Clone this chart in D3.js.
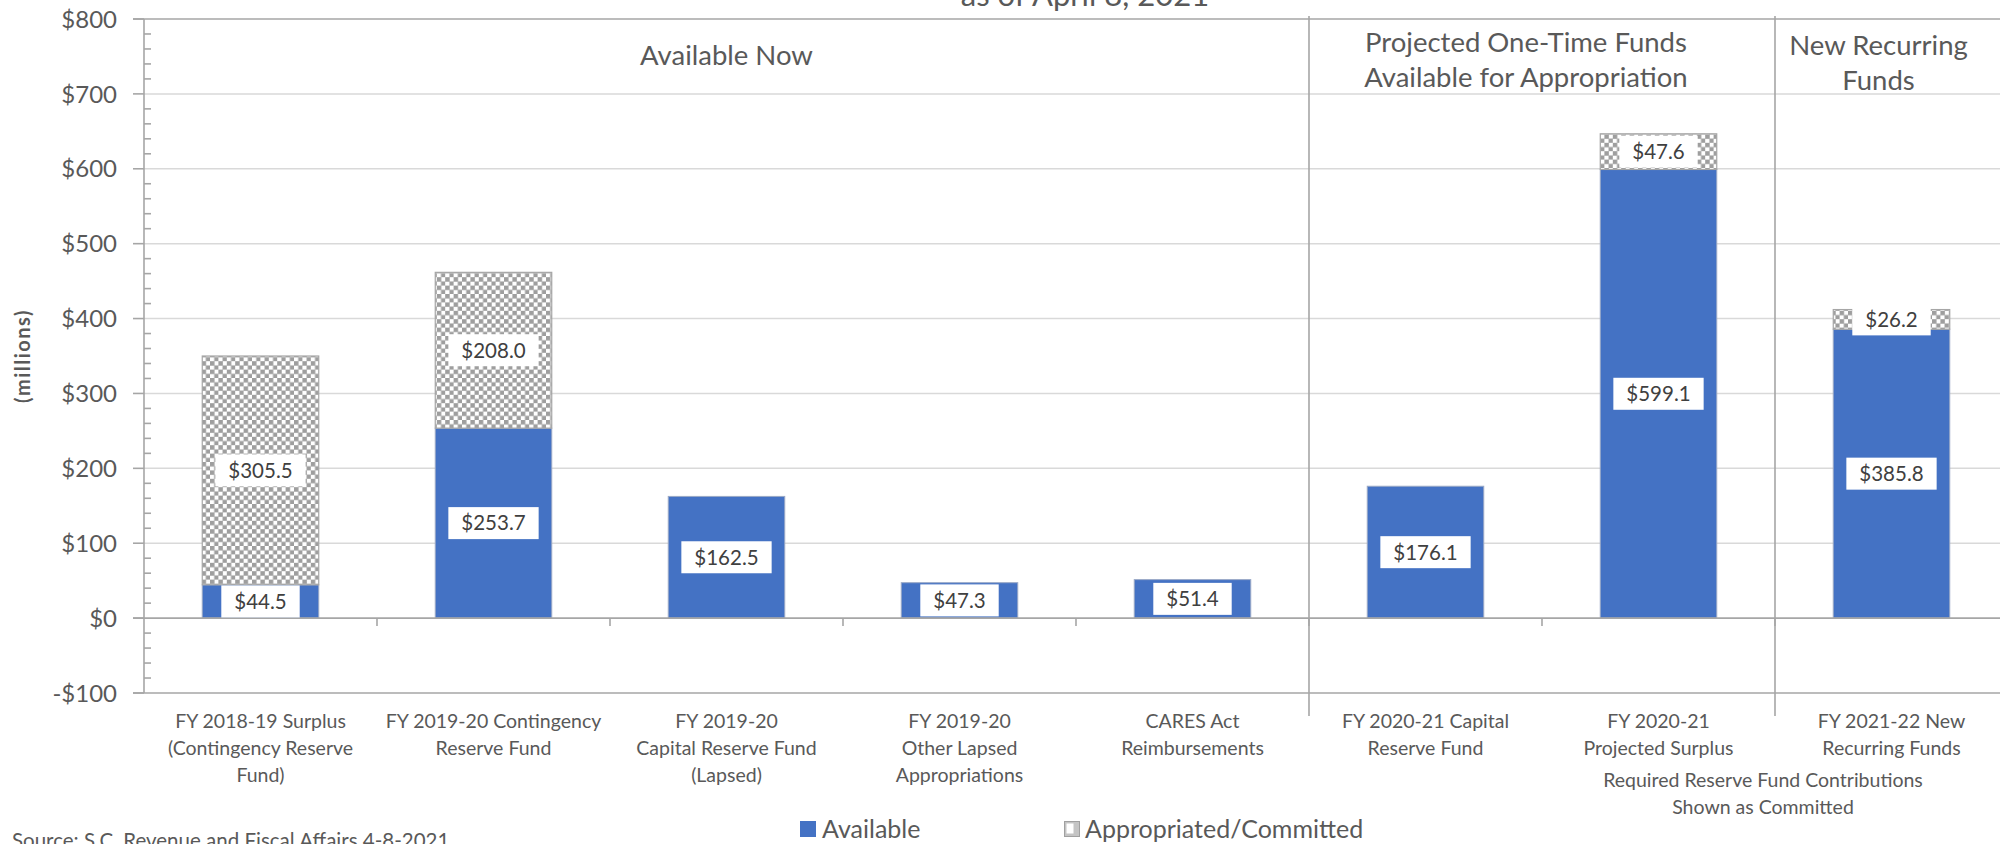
<!DOCTYPE html>
<html>
<head>
<meta charset="utf-8">
<script src="https://cdn.jsdelivr.net/npm/d3@7"></script>
<style>
  html, body { margin: 0; padding: 0; background: #ffffff; }
  svg { display: block; font-family: Lato, "Open Sans", "Noto Sans", sans-serif; }
</style>
</head>
<body>
<svg id="chart" width="2000" height="844"></svg>
<script>
// ---------------- DATA ----------------
const categoryLines = [
  ["FY 2018-19 Surplus", "(Contingency Reserve", "Fund)"],
  ["FY 2019-20 Contingency", "Reserve Fund"],
  ["FY 2019-20", "Capital Reserve Fund", "(Lapsed)"],
  ["FY 2019-20", "Other Lapsed", "Appropriations"],
  ["CARES Act", "Reimbursements"],
  ["FY 2020-21 Capital", "Reserve Fund"],
  ["FY 2020-21", "Projected Surplus"],
  ["FY 2021-22 New", "Recurring Funds"]
];
const categories = categoryLines.map(l => l.join(" "));
const available = [44.5, 253.7, 162.5, 47.3, 51.4, 176.1, 599.1, 385.8];
const committed = [305.5, 208.0, 0, 0, 0, 0, 47.6, 26.2];
const seriesNames = ["Available", "Appropriated/Committed"];
const yTickValues = [-100, 0, 100, 200, 300, 400, 500, 600, 700, 800];
const groupHeaderLines = [
  ["Available Now"],
  ["Projected One-Time Funds", "Available for Appropriation"],
  ["New Recurring", "Funds"]
];
const groupSpans = [[0, 4], [5, 6], [7, 7]];
const noteLines = ["Required Reserve Fund Contributions", "Shown as Committed"];
const subtitleText = "as of April 8, 2021";
const yAxisTitle = "(millions)";
const sourceText = "Source: S.C. Revenue and Fiscal Affairs 4-8-2021";

// ---------------- LAYOUT ----------------
const svg = d3.select("#chart");
const W = 2000;
const plotLeft = 144, plotRight = 2008, plotTop = 19, plotBottom = 693;
const blue = "#4472C4";
const txt = "#595959";
const axisGray = "#A6A6A6";
const gridGray = "#D9D9D9";

const x = d3.scaleBand().domain(categories).range([plotLeft, plotRight])
  .paddingInner(0.5).paddingOuter(0.25);
const y = d3.scaleLinear().domain([-100, 800]).range([plotBottom, plotTop]);
const step = x.step();
const gap = (step - x.bandwidth()) / 2;
const boundary = i => i === 0 ? plotLeft : x(categories[i - 1]) + x.bandwidth() + gap;

// pattern (small checkerboard)
const defs = svg.append("defs");
const P = 8.4, C = 4.5;
const pat = defs.append("pattern").attr("id", "checker")
  .attr("patternUnits", "userSpaceOnUse").attr("width", P).attr("height", P);
pat.append("rect").attr("width", P).attr("height", P).attr("fill", "#ffffff");
pat.append("rect").attr("x", 0).attr("y", 0).attr("width", C).attr("height", C).attr("fill", "#9E9E9E");
pat.append("rect").attr("x", P / 2).attr("y", P / 2).attr("width", C).attr("height", C).attr("fill", "#9E9E9E");

// gridlines
const minorTicks = d3.range(-100, 801, 20).filter(v => v % 100 !== 0);
svg.append("g").selectAll("line").data(yTickValues.filter(v => v > 0 && v < 800))
  .join("line")
  .attr("x1", plotLeft).attr("x2", W)
  .attr("y1", d => y(d)).attr("y2", d => y(d))
  .attr("stroke", gridGray).attr("stroke-width", 1.5);

// top & bottom borders
[800, -100].forEach(v => {
  svg.append("line").attr("x1", plotLeft - 11).attr("x2", W)
    .attr("y1", y(v)).attr("y2", y(v))
    .attr("stroke", axisGray).attr("stroke-width", 1.6);
});

// group separators
const sepIdx = groupSpans.slice(1).map(s => s[0]);
svg.append("g").selectAll("line").data(sepIdx).join("line")
  .attr("x1", d => boundary(d)).attr("x2", d => boundary(d))
  .attr("y1", plotTop - 3).attr("y2", 716)
  .attr("stroke", axisGray).attr("stroke-width", 1.6);

// bars
const stackData = categories.map((c, i) => ({ c, a: available[i], m: committed[i] }));
const gBars = svg.append("g");
gBars.selectAll("rect.avail").data(stackData).join("rect").attr("class", "avail")
  .attr("x", d => x(d.c)).attr("width", x.bandwidth())
  .attr("y", d => y(d.a)).attr("height", d => y(0) - y(d.a))
  .attr("fill", blue).attr("stroke", "#9AA9C6").attr("stroke-width", 1);
gBars.selectAll("rect.comm").data(stackData.filter(d => d.m > 0)).join("rect").attr("class", "comm")
  .attr("x", d => x(d.c)).attr("width", x.bandwidth())
  .attr("y", d => y(d.a + d.m)).attr("height", d => y(d.a) - y(d.a + d.m))
  .attr("fill", "url(#checker)").attr("stroke", axisGray).attr("stroke-width", 1.2);

// zero axis line
svg.append("line").attr("x1", plotLeft - 11).attr("x2", W)
  .attr("y1", y(0)).attr("y2", y(0))
  .attr("stroke", axisGray).attr("stroke-width", 1.6);
// category tick marks
svg.append("g").selectAll("line").data(d3.range(1, categories.length)).join("line")
  .attr("x1", d => boundary(d)).attr("x2", d => boundary(d))
  .attr("y1", y(0)).attr("y2", y(0) + 8)
  .attr("stroke", axisGray).attr("stroke-width", 1.6);

// y axis line and ticks
svg.append("line").attr("x1", plotLeft).attr("x2", plotLeft)
  .attr("y1", plotTop).attr("y2", plotBottom)
  .attr("stroke", axisGray).attr("stroke-width", 1.6);
svg.append("g").selectAll("line").data(yTickValues).join("line")
  .attr("x1", plotLeft - 11).attr("x2", plotLeft)
  .attr("y1", d => y(d)).attr("y2", d => y(d))
  .attr("stroke", axisGray).attr("stroke-width", 1.6);
svg.append("g").selectAll("line").data(minorTicks).join("line")
  .attr("x1", plotLeft).attr("x2", plotLeft + 7)
  .attr("y1", d => y(d)).attr("y2", d => y(d))
  .attr("stroke", axisGray).attr("stroke-width", 1.6);
svg.append("g").selectAll("text").data(yTickValues).join("text")
  .attr("x", 117).attr("y", d => y(d)).attr("dy", "0.36em")
  .attr("text-anchor", "end").attr("fill", txt)
  .style("font-size", "24px")
  .text(d => (d < 0 ? "-$" : "$") + Math.abs(d));

// y axis title
svg.append("text").attr("transform", `translate(30,${y(350)}) rotate(-90)`)
  .attr("text-anchor", "middle").attr("fill", txt)
  .style("font-size", "20px").style("font-weight", "bold").style("letter-spacing", "1.5px")
  .text(yAxisTitle);

// category labels
const gCat = svg.append("g");
categoryLines.forEach((lines, i) => {
  const cx = x(categories[i]) + x.bandwidth() / 2;
  lines.forEach((ln, j) => {
    gCat.append("text").attr("x", cx).attr("y", 728 + j * 27)
      .attr("text-anchor", "middle").attr("fill", txt)
      .style("font-size", "19.5px").text(ln);
  });
});
// note
noteLines.forEach((ln, j) => {
  gCat.append("text").attr("x", 1763).attr("y", 787 + j * 26.5)
    .attr("text-anchor", "middle").attr("fill", txt)
    .style("font-size", "19.5px").text(ln);
});

// group headers
const headerDx = [0, -16, -13];
const headerY0 = [65, 52, 55];
groupHeaderLines.forEach((lines, g) => {
  const s = groupSpans[g];
  const cx = (boundary(s[0]) + boundary(s[1] + 1)) / 2 + headerDx[g];
  lines.forEach((ln, j) => {
    svg.append("text").attr("x", cx).attr("y", headerY0[g] + j * 34.5)
      .attr("text-anchor", "middle").attr("fill", txt)
      .style("font-size", "27.5px").text(ln);
  });
});

// subtitle (cut at top)
svg.append("text").attr("x", 1085).attr("y", 5.5).attr("text-anchor", "middle")
  .attr("fill", txt).style("font-size", "31px").text(subtitleText);

// data labels
const fmt = v => "$" + d3.format(".1f")(v);
const labels = [];
stackData.forEach(d => {
  labels.push({ cx: x(d.c) + x.bandwidth() / 2, cy: (y(0) + y(d.a)) / 2, t: fmt(d.a) });
  if (d.m > 0) labels.push({ cx: x(d.c) + x.bandwidth() / 2, cy: (y(d.a) + y(d.a + d.m)) / 2, t: fmt(d.m) });
});
const gLab = svg.append("g");
labels.forEach(l => {
  const g = gLab.append("g");
  const r = g.append("rect").attr("fill", "#ffffff");
  const t = g.append("text").attr("x", l.cx).attr("y", l.cy).attr("dy", "0.36em")
    .attr("text-anchor", "middle").attr("fill", "#404040")
    .style("font-size", "20.5px").text(l.t);
  const w = t.node().getComputedTextLength() + 26;
  r.attr("x", l.cx - w / 2).attr("y", l.cy - 16).attr("width", w).attr("height", 32);
});

// legend
const lg = svg.append("g");
lg.append("rect").attr("x", 800).attr("y", 821).attr("width", 16).attr("height", 16).attr("fill", blue);
lg.append("text").attr("x", 822).attr("y", 838).attr("fill", txt).style("font-size", "25px").text(seriesNames[0]);
lg.append("rect").attr("x", 1064.5).attr("y", 821.5).attr("width", 15).attr("height", 15)
  .attr("fill", "#C4C4C4").attr("stroke", "#A0A0A0").attr("stroke-width", 1);
lg.append("rect").attr("x", 1066.5).attr("y", 823.5).attr("width", 7).attr("height", 10).attr("fill", "#ffffff");
lg.append("text").attr("x", 1085).attr("y", 838).attr("fill", txt).style("font-size", "25px").text(seriesNames[1]);

// source
svg.append("text").attr("x", 12).attr("y", 848).attr("fill", txt)
  .style("font-size", "20.5px").text(sourceText);
</script>
</body>
</html>
